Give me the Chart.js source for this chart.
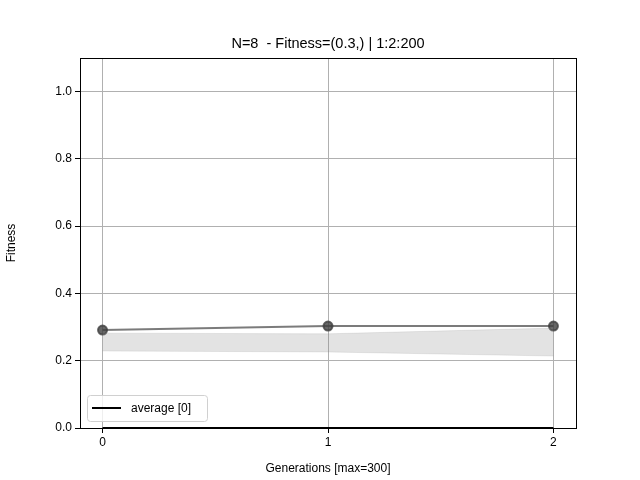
<!DOCTYPE html>
<html>
<head>
<script src="https://cdn.jsdelivr.net/npm/chart.js@4"></script>
<style>body{margin:0;background:#fff}#wrap{width:640px;height:480px}</style>
</head>
<body>
<div id="wrap"><canvas id="c" width="640" height="480"></canvas></div>
<script>
// Values
const generations = [0, 1, 2];
const bestFitness = [0.291, 0.303, 0.303];
const bandUpper = [0.282, 0.280, 0.297];
const bandLower = [0.229, 0.226, 0.214];
const averageValues = [0, 0, 0];
const xTicks = [0, 1, 2];
const yTicks = [0, 0.2, 0.4, 0.6, 0.8, 1.0];

const pts = ys => generations.map((g, i) => ({ x: g, y: ys[i] }));
const font = { family: 'Arial, "Liberation Sans", sans-serif', size: 12 };

// Title, frame and legend in matplotlib style
const extras = {
    id: 'extras',
    afterDraw(chart) {
        const { ctx, chartArea: a } = chart;
        ctx.save();
        ctx.strokeStyle = '#000';
        ctx.lineWidth = 1;
        ctx.strokeRect(a.left + 0.5, a.top + 0.5, a.right - a.left, a.bottom - a.top);
        ctx.fillStyle = '#000';
        ctx.font = '14.5px Arial, "Liberation Sans", sans-serif';
        ctx.textAlign = 'center';
        ctx.textBaseline = 'alphabetic';
        ctx.fillText('N=8  - Fitness=(0.3,) | 1:2:200', (a.left + a.right) / 2, 48);
        // legend
        const lx = a.left + 7, ly = a.bottom - 33;
        ctx.fillStyle = 'rgba(255,255,255,0.8)';
        ctx.strokeStyle = '#d0d0d0';
        ctx.beginPath();
        ctx.roundRect(lx + 0.5, ly + 0.5, 120, 26, 3);
        ctx.fill(); ctx.stroke();
        ctx.strokeStyle = '#000';
        ctx.lineWidth = 2;
        ctx.beginPath();
        ctx.moveTo(lx + 5, ly + 13); ctx.lineTo(lx + 34, ly + 13);
        ctx.stroke();
        ctx.fillStyle = '#000';
        ctx.font = '12px Arial, "Liberation Sans", sans-serif';
        ctx.textAlign = 'left';
        ctx.textBaseline = 'middle';
        ctx.fillText('average [0]', lx + 44, ly + 14);
        ctx.restore();
    }
};

new Chart(document.getElementById('c'), {
    type: 'line',
    data: {
        datasets: [
            {
                data: pts(bandUpper), fill: '+1',
                backgroundColor: 'rgba(128,128,128,0.22)',
                borderColor: 'rgba(128,128,128,0.15)', borderWidth: 1,
                pointRadius: 0, tension: 0
            },
            {
                data: pts(bandLower), fill: false,
                borderColor: 'rgba(128,128,128,0.15)', borderWidth: 1,
                pointRadius: 0, tension: 0
            },
            {
                data: pts(bestFitness), fill: false,
                borderColor: 'rgba(90,90,90,0.8)', borderWidth: 2,
                pointRadius: 4.5, pointBackgroundColor: 'rgba(64,64,64,0.8)',
                pointBorderColor: 'rgba(64,64,64,0.8)', tension: 0
            },
            {
                data: pts(averageValues), fill: false,
                borderColor: '#000', borderWidth: 2, pointRadius: 0,
                tension: 0, clip: false
            }
        ]
    },
    options: {
        responsive: false,
        animation: false,
        layout: { padding: { top: 58, right: 64, left: 0, bottom: 0 } },
        plugins: { legend: { display: false }, title: { display: false }, tooltip: { enabled: false } },
        scales: {
            x: {
                type: 'linear', min: -0.1, max: 2.1,
                afterBuildTicks: s => { s.ticks = xTicks.map(v => ({ value: v })); },
                afterFit: s => { s.height = 52; },
                grid: { color: '#b0b0b0', tickColor: '#000', tickLength: 5 },
                border: { color: '#000' },
                ticks: { color: '#000', font, padding: 2, callback: v => String(v) },
                title: { display: true, text: 'Generations [max=300]', color: '#000', font, padding: { top: 2 } }
            },
            y: {
                min: 0, max: 1.1,
                afterBuildTicks: s => { s.ticks = yTicks.map(v => ({ value: v })); },
                afterFit: s => { s.width = 80; },
                grid: { color: '#b0b0b0', tickColor: '#000', tickLength: 5 },
                border: { color: '#000' },
                ticks: { color: '#000', font, padding: 3, callback: v => v.toFixed(1) },
                title: { display: true, text: 'Fitness', color: '#000', font, padding: { bottom: 0 } }
            }
        }
    },
    plugins: [extras]
});
</script>
</body>
</html>
